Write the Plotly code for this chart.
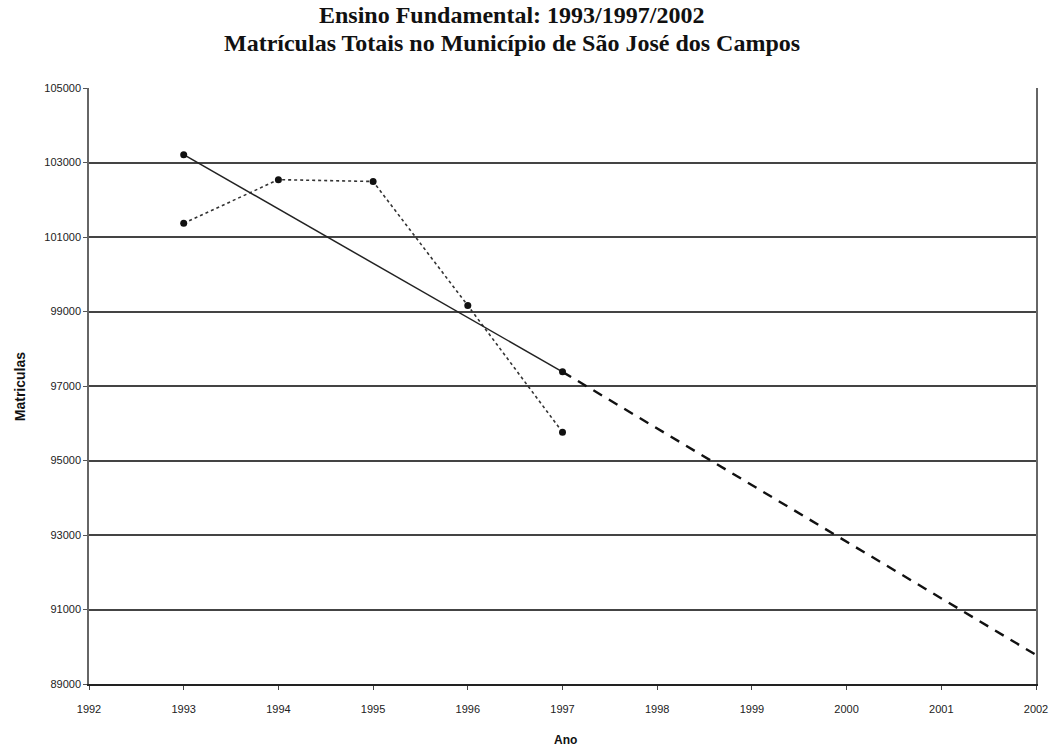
import plotly.graph_objects as go

# Data
anos_reais = [1993, 1994, 1995, 1996, 1997]
matriculas_reais = [101370, 102540, 102490, 99160, 95760]

anos_tendencia = [1993, 1997]
matriculas_tendencia = [103210, 97380]

anos_projecao = [1997, 2002]
matriculas_projecao = [97380, 89780]

x_ticks = list(range(1992, 2003))
y_ticks = list(range(89000, 105001, 2000))

titulo_linha1 = "Ensino Fundamental: 1993/1997/2002"
titulo_linha2 = "Matrículas Totais no Município de São José dos Campos"

W, H = 1060, 748
L, R, T, B = 89, 21, 88, 64

fig = go.Figure()

fig.add_trace(go.Scatter(
    x=anos_reais, y=matriculas_reais, mode="lines+markers",
    line=dict(color="#333333", width=1.6, dash="dot"),
    marker=dict(color="#111111", size=7, symbol="circle"),
    name="Matrículas", showlegend=False))

fig.add_trace(go.Scatter(
    x=anos_tendencia, y=matriculas_tendencia, mode="lines+markers",
    line=dict(color="#222222", width=1.5),
    marker=dict(color="#111111", size=7, symbol="circle"),
    name="Tendência", showlegend=False))

fig.add_trace(go.Scatter(
    x=anos_projecao, y=matriculas_projecao, mode="lines",
    line=dict(color="#111111", width=2.4, dash="10px,8px"),
    name="Projeção", showlegend=False))

def py(px_from_top):
    ph = H - T - B
    return (H - B - px_from_top) / ph

def pxx(px_from_left):
    pw = W - L - R
    return (px_from_left - L) / pw

title_font = dict(family="Liberation Serif, Times New Roman, serif", size=24, color="#111111")
fig.add_annotation(text="<b>" + titulo_linha1 + "</b>", x=pxx(513), y=py(15),
                   xref="paper", yref="paper", showarrow=False,
                   xanchor="center", yanchor="middle", font=title_font)
fig.add_annotation(text="<b>" + titulo_linha2 + "</b>", x=pxx(513), y=py(43),
                   xref="paper", yref="paper", showarrow=False,
                   xanchor="center", yanchor="middle", font=title_font)
fig.add_annotation(text="<b>Ano</b>", x=pxx(567), y=py(740),
                   xref="paper", yref="paper", showarrow=False,
                   xanchor="center", yanchor="middle",
                   font=dict(family="Liberation Sans, Arial, sans-serif", size=12, color="#111111"))
fig.add_annotation(text="<b>Matriculas</b>", x=pxx(20), y=py(387), textangle=-90,
                   xref="paper", yref="paper", showarrow=False,
                   xanchor="center", yanchor="middle",
                   font=dict(family="Liberation Sans, Arial, sans-serif", size=14, color="#111111"))

fig.update_layout(
    width=W, height=H,
    margin=dict(l=L, r=R, t=T, b=B),
    paper_bgcolor="white", plot_bgcolor="white",
    font=dict(family="Liberation Sans, Arial, sans-serif", size=11, color="#222222"),
    xaxis=dict(
        range=[1992, 2002], tickmode="array", tickvals=x_ticks,
        ticktext=[str(v) for v in x_ticks],
        showgrid=False, zeroline=False,
        showline=True, linecolor="#222222", linewidth=2, mirror=False,
        ticks="outside", ticklen=4, tickcolor="#444444",
        ticklabelstandoff=10,
        tickfont=dict(size=11, color="#222222"),
    ),
    yaxis=dict(
        range=[89000, 105000], tickmode="array", tickvals=y_ticks,
        ticktext=[str(v) for v in y_ticks],
        showgrid=True, gridcolor="#444444", gridwidth=1.5, zeroline=False,
        showline=True, linecolor="#666666", linewidth=1.5, mirror=True,
        ticks="outside", ticklen=4, tickcolor="#555555",
        tickfont=dict(size=11, color="#222222"),
    ),
)

fig.write_html("out.html", config={"displayModeBar": False},
               post_script="document.body.style.margin='0';")
